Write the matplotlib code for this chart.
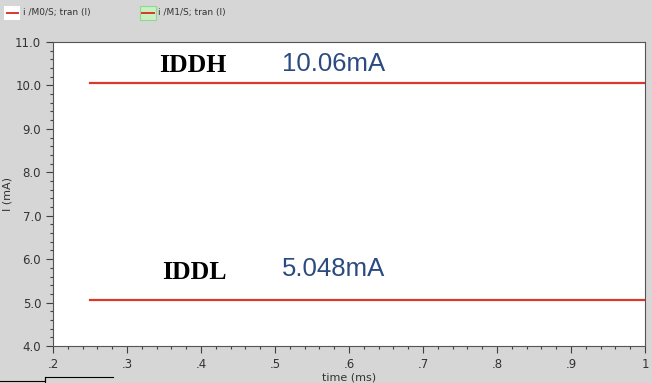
import matplotlib
matplotlib.use("Agg")
import matplotlib.pyplot as plt
from matplotlib.ticker import MultipleLocator, FixedLocator
from matplotlib.patches import Rectangle
from matplotlib.lines import Line2D

# data
time_ms = [0.25, 1.0]
iddh_ma = [10.06, 10.06]
iddl_ma = [5.048, 5.048]
x_ticks = [0.2, 0.3, 0.4, 0.5, 0.6, 0.7, 0.8, 0.9, 1.0]
x_tick_labels = [".2", ".3", ".4", ".5", ".6", ".7", ".8", ".9", "1"]
y_ticks = [4.0, 5.0, 6.0, 7.0, 8.0, 9.0, 10.0, 11.0]
legend_labels = ["i /M0/S; tran (I)", "i /M1/S; tran (I)"]

bg = "#d6d6d6"
red = "#d8392b"
tick_col = "#404040"

fig = plt.figure(figsize=(6.52, 3.83), dpi=100, facecolor=bg)
W, H = 652, 383
ax = fig.add_axes([53 / W, 1 - 346 / H, 592 / W, 304 / H])
ax.set_facecolor("white")

ax.plot(time_ms, iddh_ma, color=red, lw=1.6)
ax.plot(time_ms, iddl_ma, color=red, lw=1.6)

ax.set_xlim(0.2, 1.0)
ax.set_ylim(4.0, 11.0)
ax.xaxis.set_major_locator(FixedLocator(x_ticks))
ax.set_xticklabels(x_tick_labels)
ax.xaxis.set_minor_locator(MultipleLocator(0.02))
ax.yaxis.set_major_locator(FixedLocator(y_ticks))
ax.set_yticklabels([f"{v:.1f}" for v in y_ticks])
ax.yaxis.set_minor_locator(MultipleLocator(0.2))
ax.tick_params(which="major", direction="out", length=5, width=0.8, colors=tick_col,
               labelsize=8.5, labelcolor="#333333")
ax.tick_params(which="minor", direction="out", length=2, width=0.8, colors=tick_col)
for sp in ax.spines.values():
    sp.set_color("#555555")
    sp.set_linewidth(0.8)

ax.set_xlabel("time (ms)", fontsize=8, color="#333333", labelpad=1)
ax.set_ylabel("I (mA)", fontsize=8, color="#333333", labelpad=2)

# annotations
ax.text(0.343, 10.46, "IDDH", fontsize=18.5, fontweight="bold", family="Liberation Serif",
        color="black", va="center")
ax.text(0.509, 10.5, "10.06mA", fontsize=18.5, family="Liberation Sans",
        color="#2b4b80", va="center")
ax.text(0.347, 5.70, "IDDL", fontsize=18.5, fontweight="bold", family="Liberation Serif",
        color="black", va="center")
ax.text(0.509, 5.78, "5.048mA", fontsize=18.5, family="Liberation Sans",
        color="#2b4b80", va="center")

# legend strip at top
fig.add_artist(Rectangle((4 / W, 1 - 20 / H), 16 / W, 14 / H, transform=fig.transFigure,
                         facecolor="white", edgecolor="none"))
fig.add_artist(Line2D([7 / W, 18 / W], [1 - 13 / H] * 2, transform=fig.transFigure,
                      color=red, lw=1.4))
fig.text(23 / W, 1 - 13 / H, legend_labels[0], fontsize=6.5, color="#333333", va="center")
fig.add_artist(Rectangle((140 / W, 1 - 20 / H), 16 / W, 14 / H, transform=fig.transFigure,
                         facecolor="#c8f0c0", edgecolor="#90d890", lw=0.8))
fig.add_artist(Line2D([142 / W, 154 / W], [1 - 13 / H] * 2, transform=fig.transFigure,
                      color=red, lw=1.4))
fig.text(158 / W, 1 - 13 / H, legend_labels[1], fontsize=6.5, color="#333333", va="center")

# tab outline at bottom-left
fig.add_artist(Line2D([0, 45 / W, 45 / W, 113 / W], [1 - 381 / H, 1 - 381 / H, 1 - 377 / H, 1 - 377 / H],
                      transform=fig.transFigure, color="black", lw=0.8))
fig.add_artist(Line2D([45 / W, 45 / W], [1 - 377 / H, 0], transform=fig.transFigure,
                      color="black", lw=0.8))

fig.savefig("out.png", dpi=100, facecolor=bg)
